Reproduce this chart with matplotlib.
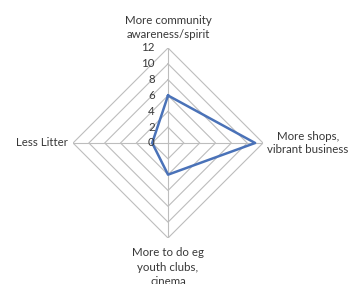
import numpy as np
import matplotlib
matplotlib.use("Agg")
import matplotlib.pyplot as plt

plt.rcParams["font.family"] = ["Lato", "DejaVu Sans"]

categories = [
    "More community\nawareness/spirit",
    "More shops,\nvibrant business",
    "More to do eg\nyouth clubs,\ncinema",
    "Less Litter",
]
values = [6, 11, 4, 2]
ticks = [0, 2, 4, 6, 8, 10, 12]

TEXT = "#383838"
GRID = "#bdbdbd"
LINE = "#4a72b8"
FS = 8.3

n = len(categories)
angles = np.arange(n) * 2 * np.pi / n
closed = np.append(angles, angles[0])

fig = plt.figure(figsize=(3.5, 2.84), dpi=100)
ax = fig.add_axes([0.2086, 0.162, 0.543, 0.669], projection="polar")
ax.set_theta_offset(np.pi / 2)
ax.set_theta_direction(-1)
ax.set_ylim(0, 12)
ax.grid(False)
ax.spines["polar"].set_visible(False)
ax.set_xticks([])
ax.set_yticks([])
ax.patch.set_alpha(0)

# polygon rings and spokes
for r in ticks[1:]:
    ax.plot(closed, [r] * (n + 1), color=GRID, lw=0.8, zorder=1)
for a in angles:
    ax.plot([a, a], [0, 12], color=GRID, lw=0.8, zorder=1)

# data series
ax.plot(closed, values + values[:1], color=LINE, lw=1.8, zorder=3)

# radial tick labels left of the top spoke
for t in ticks:
    ax.annotate(str(t), xy=(0, t), xytext=(-9.5, 0), textcoords="offset points",
                ha="right", va="center", fontsize=FS, color=TEXT)

# category labels
ax.annotate(categories[0], xy=(angles[0], 12), xytext=(0, 6), textcoords="offset points",
            ha="center", va="bottom", fontsize=FS, color=TEXT, linespacing=1.3)
ax.annotate(categories[1], xy=(angles[1], 12), xytext=(3, 0), textcoords="offset points",
            ha="left", va="center", fontsize=FS, color=TEXT, linespacing=1.3,
            multialignment="center")
ax.annotate(categories[2], xy=(angles[2], 12), xytext=(0, -6.5), textcoords="offset points",
            ha="center", va="top", fontsize=FS, color=TEXT, linespacing=1.4)
ax.annotate(categories[3], xy=(angles[3], 12), xytext=(-3.6, 0), textcoords="offset points",
            ha="right", va="center", fontsize=FS, color=TEXT)

fig.savefig("out.png", dpi=100)
